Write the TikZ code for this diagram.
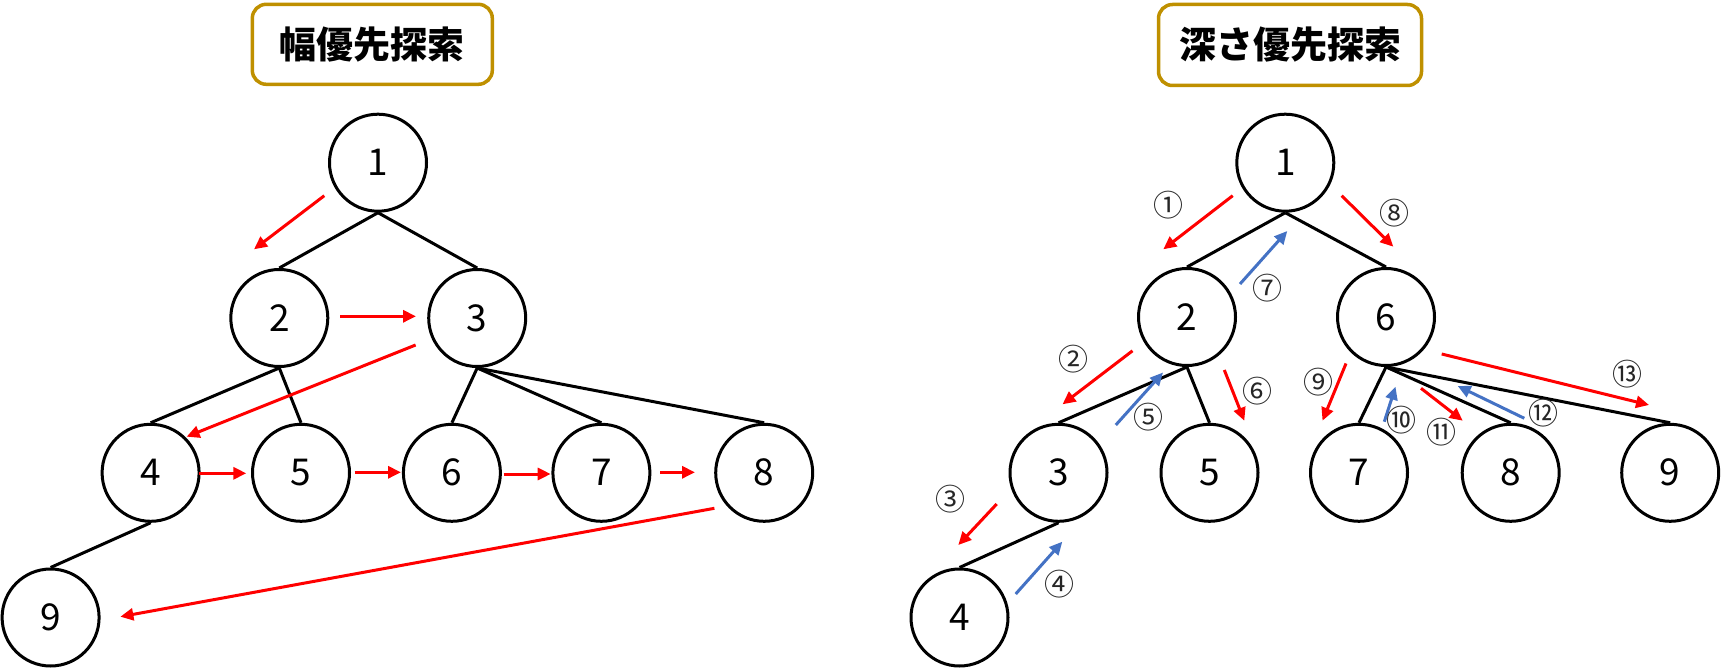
\documentclass[tikz,border=0pt]{standalone}
\usepackage{fontspec}
\setmainfont{Noto Sans CJK JP}
\usetikzlibrary{arrows.meta}
\definecolor{gold}{HTML}{BF9000}
\definecolor{arrblue}{HTML}{4472C4}
\definecolor{arrred}{HTML}{FF0000}
\tikzset{
  vert/.style={circle, draw, line width=3pt, minimum size=97pt, inner sep=0pt, font=\fontsize{37}{37}\selectfont},
  treeedge/.style={line width=3pt},
  redarr/.style={draw=arrred, line width=3pt, -{Triangle[length=13pt,width=12pt]}},
  bluearr/.style={draw=arrblue, line width=3pt, -{Triangle[length=13pt,width=12pt]}},
  num/.style={inner sep=0pt, font=\fontsize{30}{30}\selectfont, text=black!85},
  titlebox/.style={draw=gold, line width=3.5pt, rounded corners=14pt, inner sep=0pt, font=\fontsize{37}{37}\selectfont\bfseries}
}
\begin{document}
\begin{tikzpicture}[x=1pt, y=-1pt]
\useasboundingbox (0,0) rectangle (1724,668);
% titles
\node[titlebox, minimum width=240pt, minimum height=80pt] (T1) at (372.3,44.3) {幅優先探索};
\node[titlebox, minimum width=263pt, minimum height=81pt] (T2) at (1290,45) {深さ優先探索};
% left tree
\node[vert] (L1) at (378,162.7) {1};
\node[vert] (L2) at (279.3,318) {2};
\node[vert] (L3) at (477.2,318) {3};
\node[vert] (L4) at (150.6,472.8) {4};
\node[vert] (L5) at (301,472.8) {5};
\node[vert] (L6) at (451.9,472.8) {6};
\node[vert] (L7) at (601.4,472.8) {7};
\node[vert] (L8) at (764.2,472.8) {8};
\node[vert] (L9) at (50.6,617.5) {9};
\foreach \a/\b in {L1/L2,L1/L3,L2/L4,L2/L5,L3/L6,L3/L7,L3/L8,L4/L9}
  \draw[treeedge] (\a.south) -- (\b.north);
% right tree
\node[vert] (R1) at (1285.3,162.7) {1};
\node[vert] (R2) at (1187,317) {2};
\node[vert] (R6) at (1386,317) {6};
\node[vert] (R3) at (1058.5,472.8) {3};
\node[vert] (R5) at (1209.5,472.8) {5};
\node[vert] (R7) at (1359,472.8) {7};
\node[vert] (R8) at (1510.7,472.8) {8};
\node[vert] (R9) at (1670.2,472.8) {9};
\node[vert] (R4) at (959.5,617.5) {4};
\foreach \a/\b in {R1/R2,R1/R6,R2/R3,R2/R5,R3/R4,R6/R7,R6/R8,R6/R9}
  \draw[treeedge] (\a.south) -- (\b.north);
% left arrows
\coordinate (la1s) at (324.3,195.7); \coordinate (la1e) at (254,249.3);
\coordinate (la2s) at (340,316.3);   \coordinate (la2e) at (416,316.3);
\coordinate (la3s) at (415.6,345);   \coordinate (la3e) at (186.6,436.7);
\coordinate (la4s) at (199,473.3);   \coordinate (la4e) at (246.3,473.3);
\coordinate (la5s) at (354.7,472.3); \coordinate (la5e) at (401,472.3);
\coordinate (la6s) at (503.5,474);   \coordinate (la6e) at (550.7,474);
\coordinate (la7s) at (660.2,472.3); \coordinate (la7e) at (695,472.3);
\coordinate (la8s) at (714.4,508.3); \coordinate (la8e) at (120.4,616.7);
\foreach \i in {1,...,8} \draw[redarr] (la\i s) -- (la\i e);
% right arrows
\coordinate (ra1s) at (1232.7,195.7); \coordinate (ra1e) at (1163.3,249.3);
\coordinate (ra2s) at (1132.5,350.8); \coordinate (ra2e) at (1062.5,404.3);
\coordinate (ra3s) at (996.7,504);    \coordinate (ra3e) at (958.3,545);
\coordinate (ra4s) at (1015.7,594);   \coordinate (ra4e) at (1062.3,541.7);
\coordinate (ra5s) at (1115.8,425);   \coordinate (ra5e) at (1163,372.5);
\coordinate (ra6s) at (1224.3,370);   \coordinate (ra6e) at (1244.3,420.7);
\coordinate (ra7s) at (1240,284);     \coordinate (ra7e) at (1287.3,231);
\coordinate (ra8s) at (1341.7,195.7); \coordinate (ra8e) at (1393.3,246.7);
\coordinate (ra9s) at (1346,363.5);   \coordinate (ra9e) at (1322.5,420.7);
\coordinate (ra10s) at (1384.3,421.7); \coordinate (ra10e) at (1395.5,386.7);
\coordinate (ra11s) at (1421,388.3);  \coordinate (ra11e) at (1462.7,420.7);
\coordinate (ra12s) at (1524.3,418.3); \coordinate (ra12e) at (1457.7,386);
\coordinate (ra13s) at (1441.7,354);  \coordinate (ra13e) at (1649,405);
\foreach \i in {1,2,3,6,8,9,11,13} \draw[redarr] (ra\i s) -- (ra\i e);
\foreach \i in {4,5,7,10,12} \draw[bluearr] (ra\i s) -- (ra\i e);
% step labels
\node[num] (n1) at (1168.3,205) {①};
\node[num] (n2) at (1073,358.8) {②};
\node[num] (n3) at (950,499.3) {③};
\node[num] (n4) at (1059.3,584) {④};
\node[num] (n5) at (1148.3,417.5) {⑤};
\node[num] (n6) at (1257.3,390.7) {⑥};
\node[num] (n7) at (1267.3,288) {⑦};
\node[num] (n8) at (1394,212.7) {⑧};
\node[num] (n9) at (1318.3,381.7) {⑨};
\node[num] (n10) at (1401.7,420) {⑩};
\node[num] (n11) at (1441.7,431.7) {⑪};
\node[num] (n12) at (1543.3,413.3) {⑫};
\node[num] (n13) at (1627.7,374) {⑬};
\end{tikzpicture}
\end{document}
